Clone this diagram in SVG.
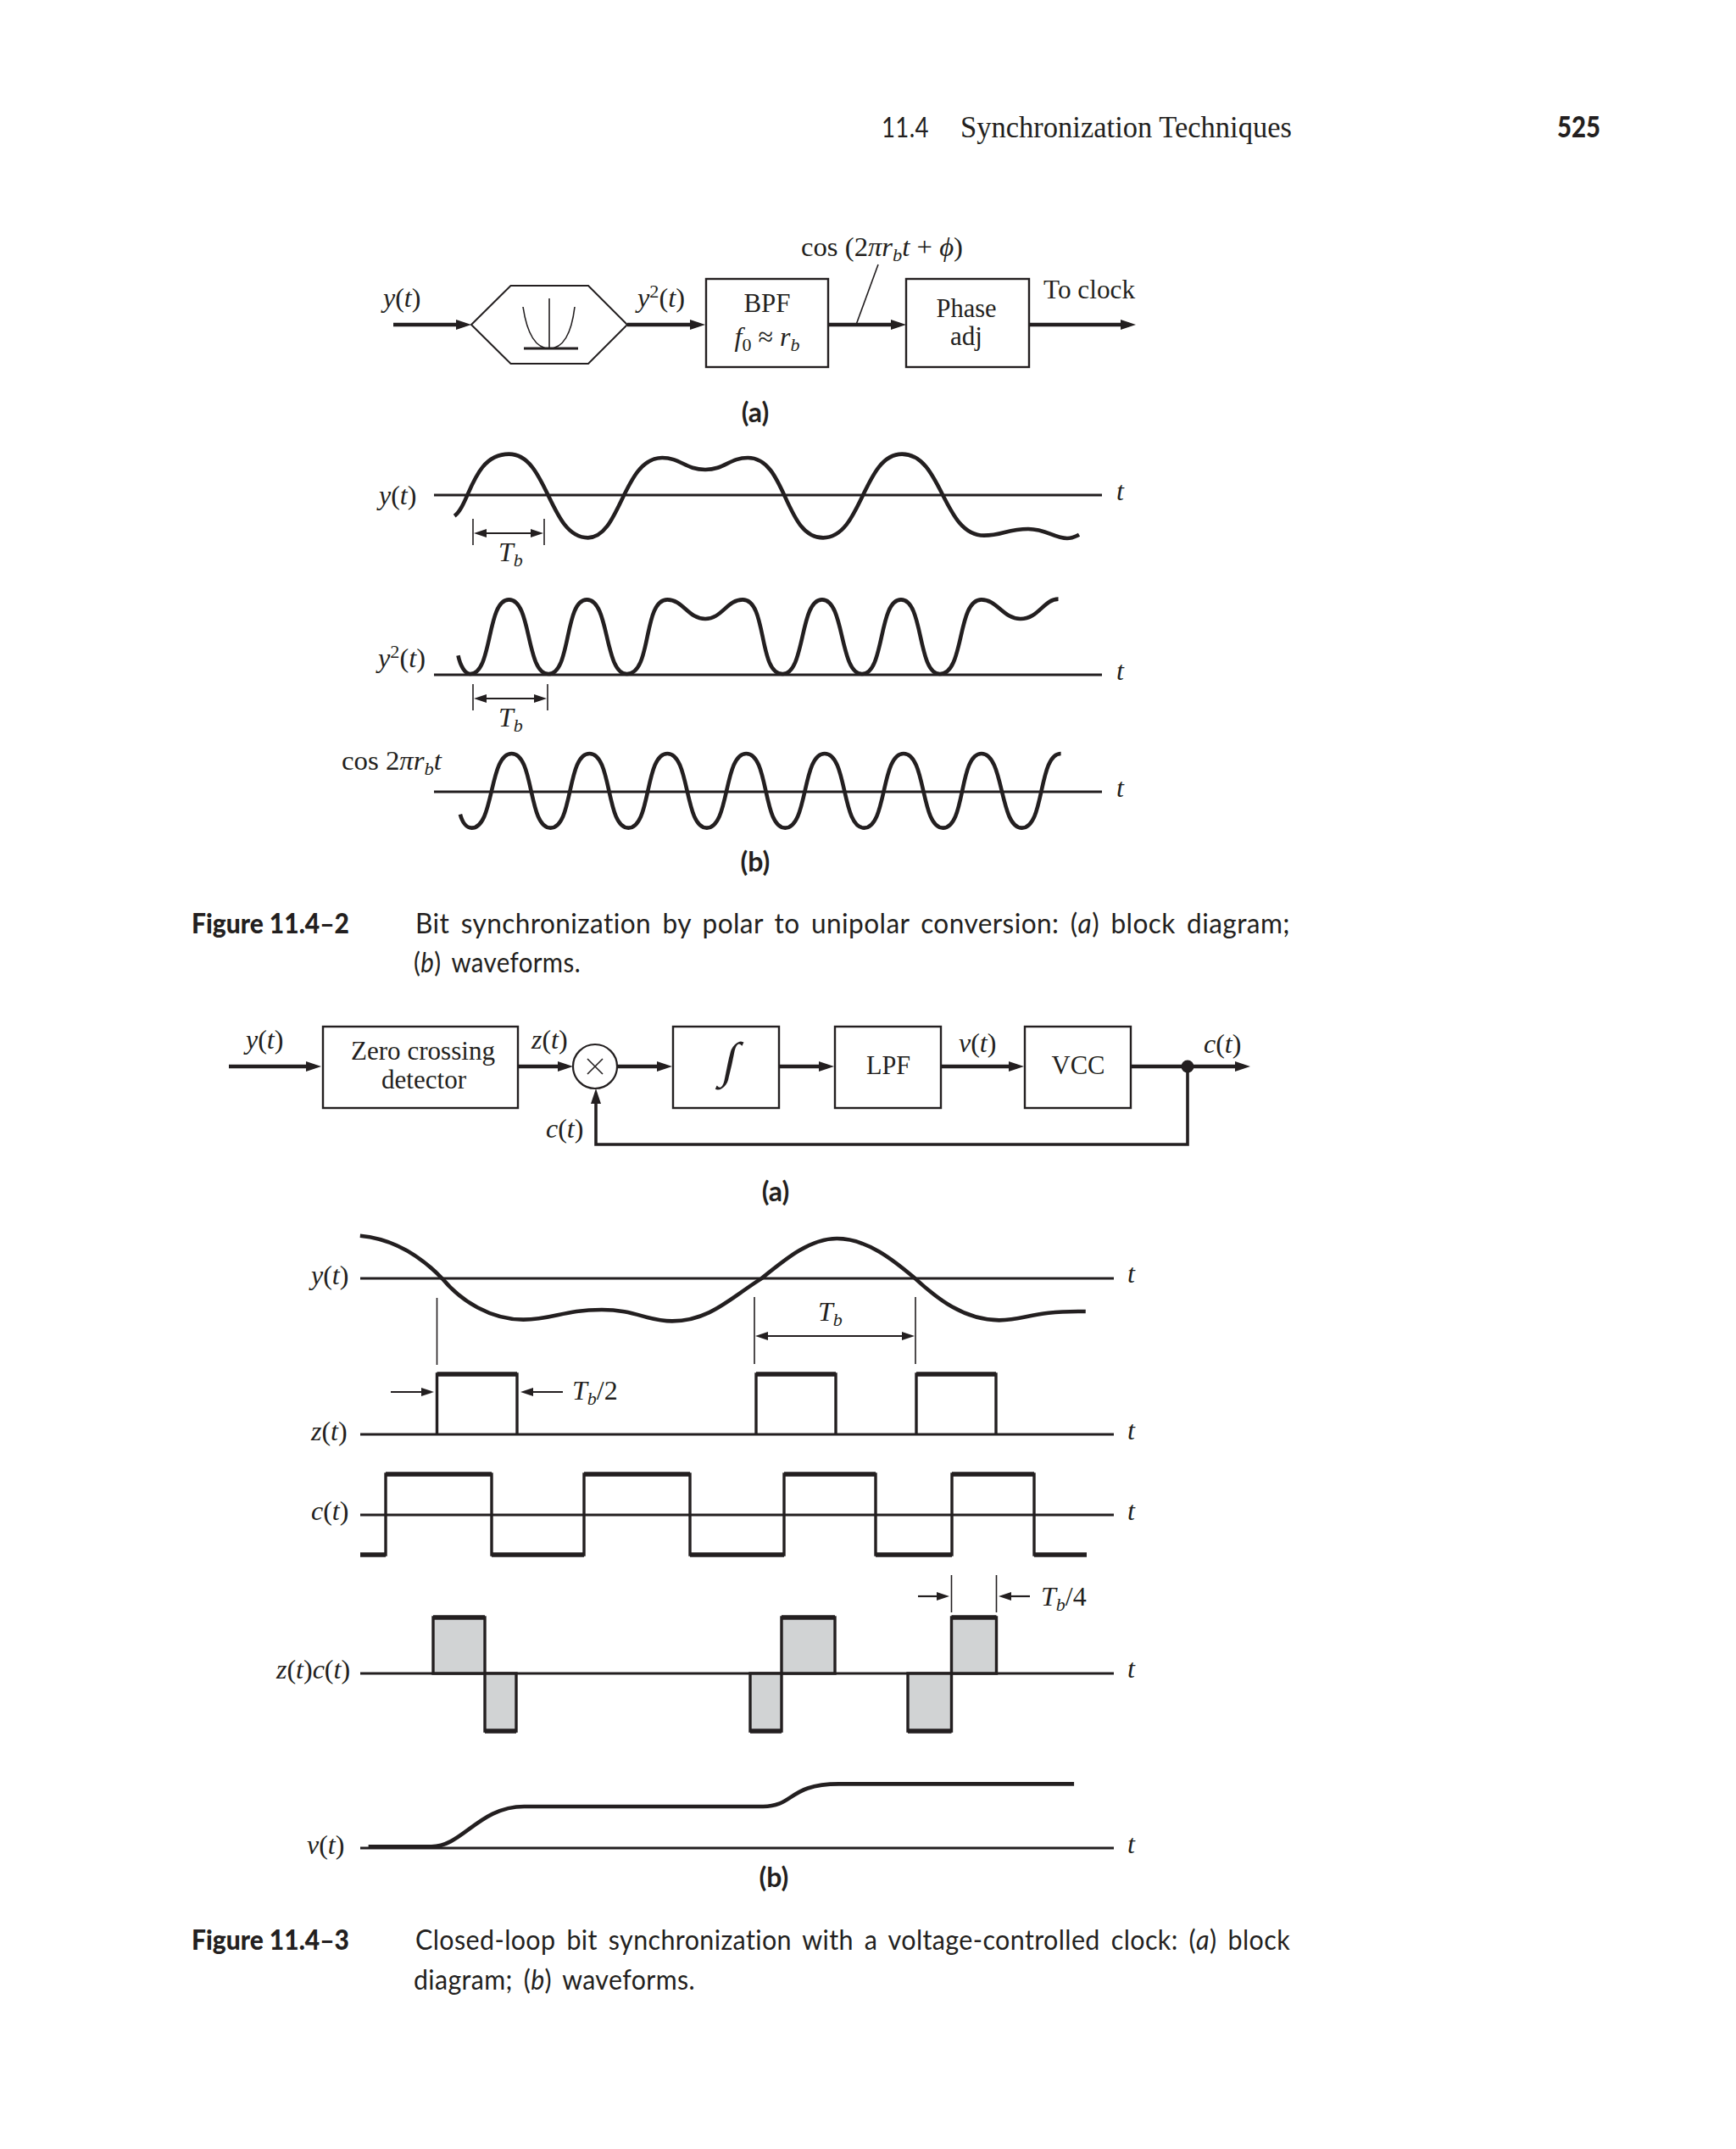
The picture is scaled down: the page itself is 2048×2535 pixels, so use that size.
<svg xmlns="http://www.w3.org/2000/svg" width="2048" height="2535" viewBox="0 0 2048 2535">
<style>
text{fill:#231f20;font-family:"Liberation Serif",serif;font-size:32px}
.i{font-style:italic}
.s{font-size:22px}
.cap{font-family:Lato,"Liberation Sans",sans-serif;font-size:32px;font-weight:400;word-spacing:5px;letter-spacing:.4px}
.lab{font-family:Lato,"Liberation Sans",sans-serif;font-size:32px;font-weight:700}
.bold{font-family:Lato,"Liberation Sans",sans-serif;font-size:33px;font-weight:900}
.m{text-anchor:middle}
.box{fill:#fff;stroke:#231f20;stroke-width:2.4}
.conn{fill:none;stroke:#231f20;stroke-width:4.4}
.thin{fill:none;stroke:#231f20;stroke-width:1.6}
.axis{fill:none;stroke:#231f20;stroke-width:3}
.wave{fill:none;stroke:#231f20;stroke-width:4.6;vector-effect:non-scaling-stroke;stroke-linejoin:round}
.sq{fill:none;stroke:#231f20;stroke-width:3.4;stroke-linejoin:miter}
.gr{fill:#d1d3d4;stroke:#231f20;stroke-width:3.4}
.top{fill:none;stroke:#231f20;stroke-width:5.5}
</style>
<defs>
<marker id="ah" markerUnits="userSpaceOnUse" markerWidth="20" markerHeight="14" viewBox="0 0 20 14" refX="10" refY="7" orient="auto"><path d="M0,1 L18,7 L0,13 Z" fill="#231f20"/></marker>
<marker id="as" markerUnits="userSpaceOnUse" markerWidth="16" markerHeight="12" viewBox="0 0 16 12" refX="8" refY="6" orient="auto-start-reverse"><path d="M0,1 L15,6 L0,11 Z" fill="#231f20"/></marker>
</defs>

<g id="header">
<text class="cap" x="1040" y="162" textLength="56" lengthAdjust="spacingAndGlyphs">11.4</text>
<text x="1133" y="162" style="font-size:35px" textLength="391" lengthAdjust="spacingAndGlyphs">Synchronization Techniques</text>
<text class="bold" x="1837" y="162" style="font-size:35px" textLength="51" lengthAdjust="spacingAndGlyphs">525</text>
</g>

<g id="connectors">
<line class="conn" x1="464" y1="383" x2="548" y2="383" marker-end="url(#ah)"/>
<line class="conn" x1="740" y1="383" x2="824" y2="383" marker-end="url(#ah)"/>
<line class="conn" x1="977" y1="383" x2="1061" y2="383" marker-end="url(#ah)"/>
<line class="conn" x1="1214" y1="383" x2="1332" y2="383" marker-end="url(#ah)"/>
<line class="thin" x1="1036" y1="312" x2="1010" y2="383"/>
<line class="conn" x1="270" y1="1258" x2="371" y2="1258" marker-end="url(#ah)"/>
<line class="conn" x1="610" y1="1258" x2="668" y2="1258" marker-end="url(#ah)"/>
<line class="conn" x1="728" y1="1258" x2="785" y2="1258" marker-end="url(#ah)"/>
<line class="conn" x1="919" y1="1258" x2="976" y2="1258" marker-end="url(#ah)"/>
<line class="conn" x1="1110" y1="1258" x2="1200" y2="1258" marker-end="url(#ah)"/>
<line class="conn" x1="1334" y1="1258" x2="1467" y2="1258" marker-end="url(#ah)"/>
<path class="conn" style="stroke-width:3.6" d="M1401,1258 V1350 H703 V1292" marker-end="url(#ah)"/>
</g>

<g id="squarer">
<polygon class="box" style="stroke-width:2" points="556,383 602.5,337 694,337 740,383 694,429 602.5,429"/>
<line class="thin" x1="648" y1="352" x2="648" y2="411"/>
<line class="axis" x1="618" y1="411" x2="682" y2="411"/>
<path class="thin" d="M617,362 C622,395 632,411 648,411 C664,411 674,395 678,362"/>
</g>
<g id="bpf">
<rect class="box" x="833" y="329" width="144" height="104"/>
<text class="m" x="905" y="368" textLength="55" lengthAdjust="spacingAndGlyphs">BPF</text>
<text class="m" x="905" y="408"><tspan class="i">f</tspan><tspan class="s" dy="6">0</tspan><tspan dy="-6"> ≈ </tspan><tspan class="i">r</tspan><tspan class="s i" dy="6">b</tspan></text>
</g>
<g id="phase-adj">
<rect class="box" x="1069" y="329" width="145" height="104"/>
<text class="m" x="1140" y="374" textLength="71" lengthAdjust="spacingAndGlyphs">Phase</text>
<text class="m" x="1140" y="407" textLength="38" lengthAdjust="spacingAndGlyphs">adj</text>
</g>
<g id="labels-11-4-2a">
<text x="452" y="362"><tspan class="i">y</tspan>(<tspan class="i">t</tspan>)</text>
<text x="752" y="362" textLength="56" lengthAdjust="spacingAndGlyphs"><tspan class="i">y</tspan><tspan class="s" dy="-11">2</tspan><tspan dy="11">(</tspan><tspan class="i">t</tspan>)</text>
<text x="945" y="302" textLength="191" lengthAdjust="spacingAndGlyphs">cos (2<tspan class="i">π</tspan><tspan class="i">r</tspan><tspan class="s i" dy="6">b</tspan><tspan class="i" dy="-6">t</tspan> + <tspan class="i">ϕ</tspan>)</text>
<text x="1231" y="352" textLength="108" lengthAdjust="spacingAndGlyphs">To clock</text>
<text class="lab m" x="891" y="498">(a)</text>
</g>

<g id="waveforms-11-4-2b">
<line class="axis" x1="512" y1="584" x2="1300" y2="584"/>
<line class="axis" x1="512" y1="796" x2="1300" y2="796"/>
<line class="axis" x1="512" y1="934" x2="1300" y2="934"/>
<g transform="translate(380 510) scale(.6125 .33333)">
<path class="wave" d="M255,296 C285,255 290,77 360,77 C435,77 437,373 512,373 C575,373 580,90 655,90 C690,90 700,132 738,132 C775,132 785,90 820,90 C895,90 890,373 965,373 C1040,373 1042,77 1117,77 C1195,77 1195,365 1275,365 C1310,365 1320,342 1360,342 C1395,342 1410,375 1435,375 C1445,375 1450,370 1458,362"/>
<path class="wave" d="M262,790 C266,825 275,855 285,855 C329,855 316,592 360,592 C404,592 392,855 436,855 C480,855 466,592 510,592 C554,592 543,855 587,855 C636,855 617,592 665,592 C695,592 705,660 738,660 C770,660 780,592 810,592 C858,592 839,855 887,855 C931,855 919,592 963,592 C1007,592 996,855 1040,855 C1084,855 1071,592 1115,592 C1159,592 1146,855 1190,855 C1238,855 1222,592 1270,592 C1300,592 1312,660 1345,660 C1380,660 1390,590 1418,590"/>
<path class="wave" d="M266,1352 C270,1380 278,1400 288,1400 C332,1400 321,1137 365,1137 C409,1137 396,1400 440,1400 C484,1400 471,1137 515,1137 C559,1137 546,1400 590,1400 C634,1400 621,1137 665,1137 C709,1137 697,1400 741,1400 C785,1400 773,1137 817,1137 C861,1137 848,1400 892,1400 C936,1400 924,1137 968,1137 C1012,1137 1000,1400 1044,1400 C1088,1400 1076,1137 1120,1137 C1164,1137 1152,1400 1196,1400 C1240,1400 1226,1137 1270,1137 C1314,1137 1304,1400 1348,1400 C1392,1400 1379,1137 1423,1137"/>
</g>
<line class="thin" x1="558" y1="612" x2="558" y2="643"/>
<line class="thin" x1="642" y1="612" x2="642" y2="643"/>
<line class="thin" style="stroke-width:2.2" x1="566" y1="629" x2="634" y2="629" marker-start="url(#as)" marker-end="url(#as)"/>
<line class="thin" x1="558" y1="807" x2="558" y2="838"/>
<line class="thin" x1="646" y1="807" x2="646" y2="838"/>
<line class="thin" style="stroke-width:2.2" x1="566" y1="824" x2="638" y2="824" marker-start="url(#as)" marker-end="url(#as)"/>
<text x="447" y="595"><tspan class="i">y</tspan>(<tspan class="i">t</tspan>)</text>
<text x="446" y="787" textLength="56" lengthAdjust="spacingAndGlyphs"><tspan class="i">y</tspan><tspan class="s" dy="-11">2</tspan><tspan dy="11">(</tspan><tspan class="i">t</tspan>)</text>
<text x="403" y="908" textLength="118" lengthAdjust="spacingAndGlyphs">cos 2<tspan class="i">π</tspan><tspan class="i">r</tspan><tspan class="s i" dy="6">b</tspan><tspan class="i" dy="-6">t</tspan></text>
<text class="i" x="1317" y="590">t</text>
<text class="i" x="1317" y="802">t</text>
<text class="i" x="1317" y="940">t</text>
<text x="588" y="662"><tspan class="i">T</tspan><tspan class="s i" dy="6">b</tspan></text>
<text x="588" y="857"><tspan class="i">T</tspan><tspan class="s i" dy="6">b</tspan></text>
<text class="lab m" x="891" y="1028">(b)</text>
</g>

<g id="caption-1">
<text class="bold" x="226" y="1101" textLength="186" lengthAdjust="spacingAndGlyphs">Figure 11.4–2</text>
<text class="cap" x="490" y="1101" textLength="1032" lengthAdjust="spacingAndGlyphs">Bit synchronization by polar to unipolar conversion: (<tspan class="i">a</tspan>) block diagram;</text>
<text class="cap" x="488" y="1147" textLength="197" lengthAdjust="spacingAndGlyphs">(<tspan class="i">b</tspan>) waveforms.</text>
</g>

<g id="zero-crossing-detector">
<rect class="box" x="381" y="1211" width="230" height="96"/>
<text class="m" x="499" y="1250" textLength="170" lengthAdjust="spacingAndGlyphs">Zero crossing</text>
<text class="m" x="500" y="1284" textLength="100" lengthAdjust="spacingAndGlyphs">detector</text>
</g>
<g id="multiplier">
<circle cx="702" cy="1258" r="26" fill="#fff" stroke="#231f20" stroke-width="2.2"/>
<path class="thin" d="M693,1249 L711,1267 M711,1249 L693,1267"/>
</g>
<g id="integrator">
<rect class="box" x="794" y="1211" width="125" height="96"/>
<text class="m" transform="translate(858 1270) skewX(-12)" style="font-size:58px">∫</text>
</g>
<g id="lpf">
<rect class="box" x="985" y="1211" width="125" height="96"/>
<text class="m" x="1048" y="1267" textLength="52" lengthAdjust="spacingAndGlyphs">LPF</text>
</g>
<g id="vcc">
<rect class="box" x="1209" y="1211" width="125" height="96"/>
<text class="m" x="1272" y="1267" textLength="63" lengthAdjust="spacingAndGlyphs">VCC</text>
</g>
<g id="junction"><circle cx="1401" cy="1258" r="7.5" fill="#231f20"/></g>
<g id="labels-11-4-3a">
<text x="290" y="1237"><tspan class="i">y</tspan>(<tspan class="i">t</tspan>)</text>
<text x="627" y="1237"><tspan class="i">z</tspan>(<tspan class="i">t</tspan>)</text>
<text x="1131" y="1241"><tspan class="i">v</tspan>(<tspan class="i">t</tspan>)</text>
<text x="1420" y="1242"><tspan class="i">c</tspan>(<tspan class="i">t</tspan>)</text>
<text x="644" y="1342"><tspan class="i">c</tspan>(<tspan class="i">t</tspan>)</text>
<text class="lab m" x="915" y="1417">(a)</text>
</g>

<g id="waveforms-11-4-3b">
<line class="axis" x1="425" y1="1508" x2="1314" y2="1508"/>
<line class="axis" x1="425" y1="1692" x2="1314" y2="1692"/>
<line class="axis" x1="425" y1="1787" x2="1314" y2="1787"/>
<line class="axis" x1="425" y1="1974" x2="1314" y2="1974"/>
<line class="axis" x1="425" y1="2180" x2="1314" y2="2180"/>

<g transform="translate(340 1420) scale(.6378 .33333)">
<path class="wave" d="M133,113 C200,125 250,195 285,265 C320,345 375,410 435,410 C490,410 510,375 580,375 C640,375 665,415 710,415 C780,415 820,330 875,265 C920,195 965,123 1015,123 C1070,123 1120,200 1160,265 C1200,335 1250,412 1315,412 C1365,412 1375,378 1475,381"/>
</g>
<line class="thin" x1="515.5" y1="1531" x2="515.5" y2="1610"/>
<line class="thin" x1="890" y1="1530" x2="890" y2="1609"/>
<line class="thin" x1="1080" y1="1530" x2="1080" y2="1609"/>
<line class="thin" style="stroke-width:2.2" x1="898" y1="1576" x2="1072" y2="1576" marker-start="url(#as)" marker-end="url(#as)"/>
<text x="965" y="1558"><tspan class="i">T</tspan><tspan class="s i" dy="6">b</tspan></text>

<path class="sq" d="M515.5,1692 V1621 H610 V1692 M892,1692 V1621 H986 V1692 M1081,1692 V1621 H1175 V1692"/>
<path class="top" d="M515.5,1621 H610 M892,1621 H986 M1081,1621 H1175"/>
<line class="thin" style="stroke-width:2.2" x1="461" y1="1642" x2="505" y2="1642" marker-end="url(#as)"/>
<line class="thin" style="stroke-width:2.2" x1="664" y1="1642" x2="621" y2="1642" marker-end="url(#as)"/>
<text x="675" y="1651"><tspan class="i">T</tspan><tspan class="s i" dy="6">b</tspan><tspan dy="-6">/2</tspan></text>

<path class="sq" d="M425,1834 H455 V1739 H580 V1834 H689 V1739 H814 V1834 H925 V1739 H1033 V1834 H1123 V1739 H1220 V1834 H1282"/>
<path class="top" d="M455,1739 H580 M689,1739 H814 M925,1739 H1033 M1123,1739 H1220 M425,1834 H455 M580,1834 H689 M814,1834 H925 M1033,1834 H1123 M1220,1834 H1282"/>

<path class="gr" d="M511,1974 V1908 H572 V1974 Z M572,1974 V2042 H609 V1974 Z M885,1974 V2042 H922 V1974 Z M922,1974 V1908 H985 V1974 Z M1071,1974 V2042 H1122.5 V1974 Z M1122.5,1974 V1908 H1175.5 V1974 Z"/>
<path class="top" d="M511,1908 H572 M922,1908 H985 M1122.5,1908 H1175.5 M572,2042 H609 M885,2042 H922 M1071,2042 H1122.5"/>
<line class="thin" x1="1122.5" y1="1858" x2="1122.5" y2="1902"/>
<line class="thin" x1="1175.5" y1="1858" x2="1175.5" y2="1902"/>
<line class="thin" style="stroke-width:2.2" x1="1083" y1="1883" x2="1113" y2="1883" marker-end="url(#as)"/>
<line class="thin" style="stroke-width:2.2" x1="1215" y1="1883" x2="1185" y2="1883" marker-end="url(#as)"/>
<text x="1228" y="1894"><tspan class="i">T</tspan><tspan class="s i" dy="6">b</tspan><tspan dy="-6">/4</tspan></text>

<g transform="translate(300 1820) scale(.6633 .33333)">
<path class="wave" d="M203,1075 L315,1075 C370,1075 400,933 480,933 L905,933 C960,933 950,853 1040,853 L1458,853"/>
</g>

<text x="367" y="1515"><tspan class="i">y</tspan>(<tspan class="i">t</tspan>)</text>
<text x="367" y="1699"><tspan class="i">z</tspan>(<tspan class="i">t</tspan>)</text>
<text x="367" y="1793"><tspan class="i">c</tspan>(<tspan class="i">t</tspan>)</text>
<text x="326" y="1980"><tspan class="i">z</tspan>(<tspan class="i">t</tspan>)<tspan class="i">c</tspan>(<tspan class="i">t</tspan>)</text>
<text x="362" y="2187"><tspan class="i">v</tspan>(<tspan class="i">t</tspan>)</text>
<text class="i" x="1330" y="1513">t</text>
<text class="i" x="1330" y="1698">t</text>
<text class="i" x="1330" y="1793">t</text>
<text class="i" x="1330" y="1979">t</text>
<text class="i" x="1330" y="2186">t</text>
<text class="lab m" x="913" y="2226">(b)</text>
</g>

<g id="caption-2">
<text class="bold" x="226" y="2300" textLength="186" lengthAdjust="spacingAndGlyphs">Figure 11.4–3</text>
<text class="cap" x="490" y="2300" textLength="1032" lengthAdjust="spacingAndGlyphs">Closed-loop bit synchronization with a voltage-controlled clock: (<tspan class="i">a</tspan>) block</text>
<text class="cap" x="488" y="2347" textLength="332" lengthAdjust="spacingAndGlyphs">diagram; (<tspan class="i">b</tspan>) waveforms.</text>
</g>
</svg>
